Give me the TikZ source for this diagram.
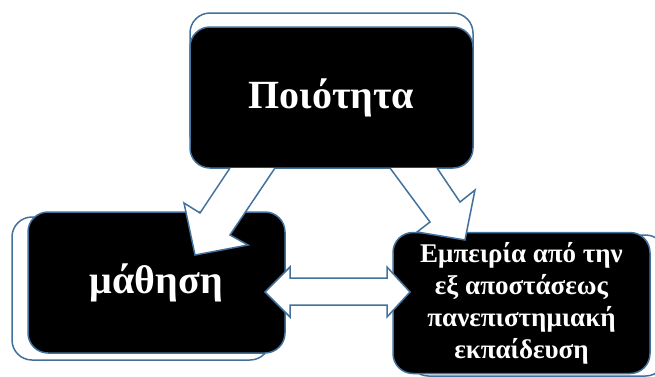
\documentclass[tikz,border=0pt]{standalone}
\usepackage{fontspec}
\setmainfont{Liberation Serif}
\definecolor{frameblue}{HTML}{41719C}
\tikzset{
	back/.style={draw=frameblue, line width=1.5pt, fill=white, rounded corners=20pt},
	box/.style={draw=frameblue, line width=1.5pt, fill=black, rounded corners=20pt, text=white, font=\bfseries, align=center},
	blockarrow/.style={draw=frameblue, line width=1.5pt, fill=white, line join=miter}
}
\begin{document}
\begin{tikzpicture}[x=1pt,y=-1pt]
	\clip (0,0) rectangle (655,376);
	\useasboundingbox (0,0) rectangle (655,376);
%	back frames
	\node[back, minimum width=283pt, minimum height=141pt] (qback) at (331.5,83.5) {};
	\node[back, minimum width=258pt, minimum height=143pt] (mback) at (141,288.5) {};
	\node[back, minimum width=257pt, minimum height=141pt] (eback) at (537,305.5) {};
%	black boxes
	\node[box, minimum width=283pt, minimum height=141pt, font=\bfseries\fontsize{40}{44}\selectfont] (quality) at (331.5,97.5) {Ποιότητα};
	\node[box, minimum width=257pt, minimum height=141pt, font=\bfseries\fontsize{40}{44}\selectfont] (learning) at (156.5,282.5) {μάθηση};
	\node[box, minimum width=257pt, minimum height=141pt, font=\bfseries\fontsize{27}{32}\selectfont] (experience) at (521.5,303) {Εμπειρία από την\\εξ αποστάσεως\\πανεπιστημιακή\\εκπαίδευση};
%	arrows
	\draw[blockarrow] (230,168)--(200,213)--(184,203)--(195,255)--(248,245)--(230,235)--(275,168);
	\draw[blockarrow] (390,168)--(430,222)--(417,232)--(465,240)--(475,190)--(460,202)--(437,168);
	\draw[blockarrow] (265,292)--(290,267)--(290,278)--(387,278)--(387,267)--(410,292)--(387,317)--(387,305)--(290,305)--(290,317)--cycle;
\end{tikzpicture}
\end{document}
